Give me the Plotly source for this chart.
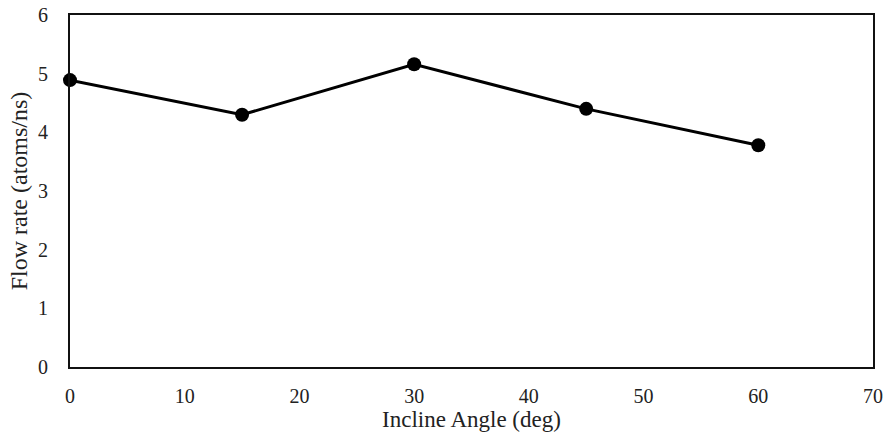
import plotly.graph_objects as go

angles = [0, 15, 30, 45, 60]
flow_rate = [4.89, 4.30, 5.16, 4.40, 3.78]

x_ticks = [0, 10, 20, 30, 40, 50, 60, 70]
y_ticks = [0, 1, 2, 3, 4, 5, 6]

fig = go.Figure()
fig.add_trace(go.Scatter(
    x=angles, y=flow_rate, mode="lines+markers",
    line=dict(color="black", width=3),
    marker=dict(color="black", size=14),
    cliponaxis=False, showlegend=False,
))

font = "Liberation Serif, Times New Roman, serif"
fig.update_layout(
    width=888, height=432,
    margin=dict(l=70, r=15, t=15, b=65, autoexpand=False),
    paper_bgcolor="white", plot_bgcolor="white",
    font=dict(family=font, size=20, color="#222"),
)
fig.update_xaxes(
    range=[0, 70], tickvals=x_ticks, showgrid=False, zeroline=False,
    showline=True, mirror=True, linecolor="#111", linewidth=2,
    ticks="", ticklabelstandoff=10, automargin=False, ticklabeloverflow="allow",
    title=dict(text="Incline Angle (deg)", font=dict(size=23), standoff=8),
)
fig.update_yaxes(
    range=[0, 6], tickvals=y_ticks, showgrid=False, zeroline=False,
    showline=True, mirror=True, linecolor="#111", linewidth=2,
    ticks="", ticklabelstandoff=16, automargin=False, ticklabeloverflow="allow",
    title=dict(text="Flow rate (atoms/ns)", font=dict(size=24), standoff=4),
)
fig.write_html(
    "out.html",
    config={"displayModeBar": False},
    post_script="document.body.style.margin='0';document.body.style.overflow='hidden';",
)
